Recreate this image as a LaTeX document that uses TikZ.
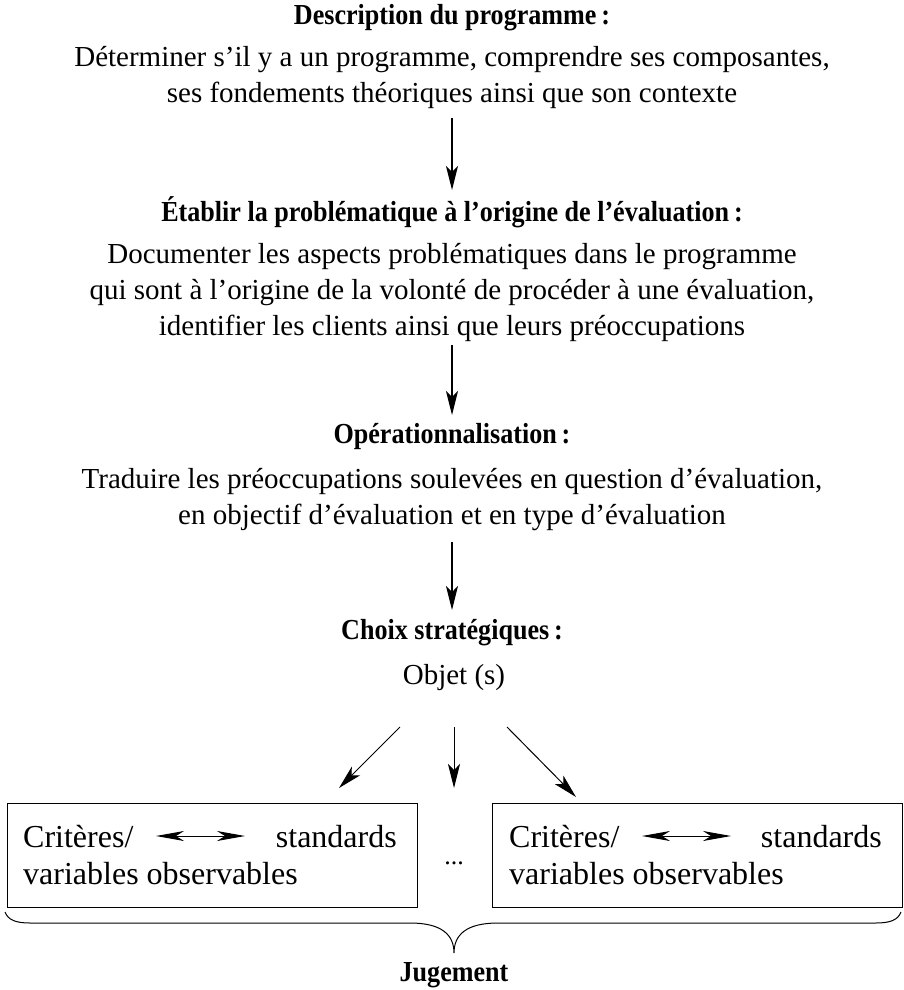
\documentclass[tikz,border=0pt]{standalone}
\usepackage{fontspec}
\setmainfont{Liberation Serif}
\newfontfamily\condbold[FakeStretch=0.9]{Liberation Serif}
\usetikzlibrary{arrows.meta}
\begin{document}
\begin{tikzpicture}[x=1pt,y=-1pt,
  txt/.style={font=\fontsize{29}{36}\selectfont, align=center, inner sep=0pt},
  ttl/.style={font=\fontsize{29}{36}\condbold\bfseries, inner sep=0pt},
  btxt/.style={font=\fontsize{32}{38}\selectfont, inner sep=0pt},
  flow/.style={-{Stealth[length=24pt,width=12pt,inset=6pt]}, line width=1.2pt},
  box/.style={draw, line width=1pt, minimum width=410pt, minimum height=104pt, inner sep=0pt},
  dbl/.style={{Stealth[length=28pt,width=10pt,inset=8pt]}-{Stealth[length=28pt,width=10pt,inset=8pt]}, line width=1pt}]
\useasboundingbox (0,0) rectangle (903,990);

% titles and texts
\node[ttl] (t1) at (452,18) {Description du programme\,:};
\node[txt] (d1) at (452,78) {Déterminer s’il y a un programme, comprendre ses composantes,\\ses fondements théoriques ainsi que son contexte};
\node[ttl] (t2) at (452,212) {Établir la problématique à l’origine de l’évaluation\,:};
\node[txt] (d2) at (452,293) {Documenter les aspects problématiques dans le programme\\qui sont à l’origine de la volonté de procéder à une évaluation,\\identifier les clients ainsi que leurs préoccupations};
\node[ttl] (t3) at (452,437) {Opérationnalisation\,:};
\node[txt] (d3) at (452,500) {Traduire les préoccupations soulevées en question d’évaluation,\\en objectif d’évaluation et en type d’évaluation};
\node[ttl] (t4) at (452,633) {Choix stratégiques\,:};
\node[txt] (obj) at (454,678) {Objet (s)};

% vertical flow arrows
\coordinate (a1s) at (452,118); \coordinate (a1e) at (452,190);
\coordinate (a2s) at (452,345); \coordinate (a2e) at (452,415);
\coordinate (a3s) at (452,542); \coordinate (a3e) at (452,610);
\draw[flow, line width=1.6pt] (a1s) -- (a1e);
\draw[flow] (a2s) -- (a2e);
\draw[flow] (a3s) -- (a3e);

% boxes
\node[box] (b1) at (212,855) {};
\node[box] (b2) at (697.5,855) {};

% arrows from Objet
\coordinate (ls) at (400,727); \coordinate (le) at (339,788);
\coordinate (ms) at (454,727); \coordinate (me) at (454,788);
\coordinate (rs) at (507,727); \coordinate (re) at (576,797);
\draw[flow, line width=1pt] (ls) -- (le);
\draw[flow, line width=1pt] (ms) -- (me);
\draw[flow, line width=1pt] (rs) -- (re);

% box contents
\node[btxt, anchor=base west] (c1) at (23,847) {Critères/};
\node[btxt, anchor=base east] (s1) at (397,847) {standards};
\node[btxt, anchor=base west] (v1) at (23,884) {variables observables};
\coordinate (d1l) at (156,836); \coordinate (d1r) at (245,836);
\draw[dbl] (d1l) -- (d1r);

\node[btxt, anchor=base west] (c2) at (509,847) {Critères/};
\node[btxt, anchor=base east] (s2) at (882,847) {standards};
\node[btxt, anchor=base west] (v2) at (509,884) {variables observables};
\coordinate (d2l) at (642,836); \coordinate (d2r) at (731,836);
\draw[dbl] (d2l) -- (d2r);

\node[btxt, font=\fontsize{26}{30}\selectfont, anchor=base] (dots) at (454,864) {...};

% brace
\coordinate (bl) at (5,912); \coordinate (br) at (901,912); \coordinate (tip) at (454,953);
\draw[line width=1pt] (bl) .. controls (8,920) and (16,923) .. (30,923)
  -- (410,923) .. controls (442,923) and (454,935) .. (tip)
  .. controls (454,935) and (466,923) .. (498,923)
  -- (876,923) .. controls (890,923) and (898,920) .. (br);

\node[ttl] (jug) at (454,975) {Jugement};
\end{tikzpicture}
\end{document}
